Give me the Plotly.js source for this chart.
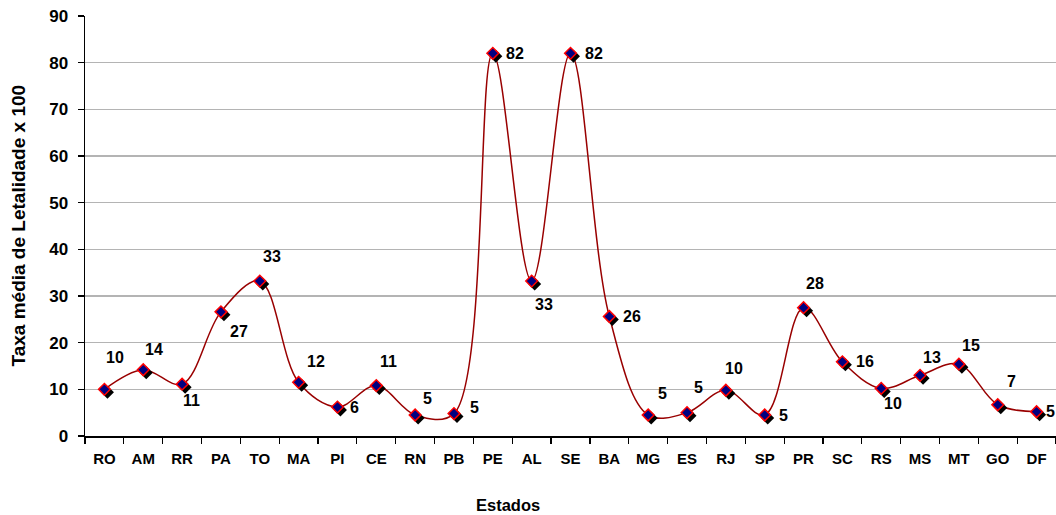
<!DOCTYPE html>
<html>
<head>
<meta charset="utf-8">
<script src="https://cdn.plot.ly/plotly-3.0.1.min.js"></script>
<style>
  html, body { margin: 0; padding: 0; background: #fff; overflow: hidden; }
  #chart { width: 1056px; height: 515px; }
</style>
</head>
<body>
<div id="chart"></div>
<script>
// Taxa média de letalidade (x 100) por estado
const estados = ['RO','AM','RR','PA','TO','MA','PI','CE','RN','PB','PE','AL','SE',
                 'BA','MG','ES','RJ','SP','PR','SC','RS','MS','MT','GO','DF'];
const taxas = [10, 14.2, 11.1, 26.6, 33.2, 11.5, 6.2, 10.8, 4.5, 4.8, 82, 33.2, 82,
               25.6, 4.5, 5, 9.8, 4.5, 27.5, 15.9, 10.2, 13, 15.4, 6.7, 5.2];

// label offsets in pixels (right, down) around each marker
const labelDx = [11, 11, 9, 18, 12, 17, 17, 12, 12, 21, 22, 12, 23, 23, 14, 11, 8, 19, 11, 23, 12, 12, 12, 14, 14];
const labelDy = [-32, -20, 16, 20, -25, -21, 0, -24, -17, -6, 0, 23, 0, 0, -22, -25, -22, 0, -24, 0, 15, -18, -19, -23, 0];

const M = { l: 85, r: 0, t: 16, b: 79 };
const W = 1056, H = 515;
const plotW = W - M.l - M.r, plotH = H - M.t - M.b;
const xRange = [-0.5, estados.length - 0.5];
const yRange = [0, 90];
const xPerPx = (xRange[1] - xRange[0]) / plotW;
const yPerPx = (yRange[1] - yRange[0]) / plotH;
const SHADOW_DX = 3, SHADOW_DY = 3;

const font = 'Liberation Sans, Arial, sans-serif';

const lineTrace = {
  x: estados, y: taxas, type: 'scatter', mode: 'lines',
  line: { shape: 'spline', smoothing: 1, color: '#990000', width: 1.5 },
  hoverinfo: 'skip', xaxis: 'x', yaxis: 'y'
};
const shadowTrace = {
  x: estados, y: taxas, type: 'scatter', mode: 'markers',
  marker: { symbol: 'diamond', size: 10, color: '#000000', line: { width: 0 } },
  hoverinfo: 'skip', xaxis: 'x2', yaxis: 'y2', cliponaxis: false
};
const markerTrace = {
  x: estados, y: taxas, type: 'scatter', mode: 'markers',
  marker: { symbol: 'diamond', size: 9, color: '#000080', line: { color: '#ff0000', width: 1.5 } },
  xaxis: 'x3', yaxis: 'y3', cliponaxis: false
};

const annotations = estados.map((e, i) => ({
  x: e, y: taxas[i], xref: 'x', yref: 'y',
  text: String(Math.round(taxas[i])),
  showarrow: false, xanchor: 'center', yanchor: 'middle',
  xshift: labelDx[i], yshift: -labelDy[i],
  font: { family: font, size: 16, color: '#000', weight: 'bold' }
}));
annotations.push({
  text: 'Taxa média de Letalidade x 100', textangle: -90,
  xref: 'paper', yref: 'paper', x: (17.5 - M.l) / plotW, y: 0.5,
  xanchor: 'center', yanchor: 'middle', showarrow: false,
  font: { family: font, size: 19, color: '#000', weight: 'bold' }
});
annotations.push({
  text: 'Estados',
  xref: 'paper', yref: 'paper', x: (507.5 - M.l) / plotW, y: (plotH + M.t - 505) / plotH,
  xanchor: 'center', yanchor: 'middle', showarrow: false,
  font: { family: font, size: 16.5, color: '#000', weight: 'bold' }
});

const layout = {
  width: W, height: H, margin: M,
  paper_bgcolor: '#fff', plot_bgcolor: '#fff',
  showlegend: false,
  xaxis: {
    type: 'category', range: xRange, tickson: 'boundaries',
    ticks: 'outside', ticklen: 6, tickwidth: 1.2, tickcolor: '#000',
    showline: true, linecolor: '#000', linewidth: 1.5,
    showgrid: false, zeroline: false, ticklabelstandoff: 8,
    tickfont: { family: font, size: 15, color: '#000', weight: 'bold' }
  },
  yaxis: {
    range: yRange, dtick: 10, tick0: 0,
    ticks: 'outside', ticklen: 6, tickwidth: 1.2, tickcolor: '#000',
    showline: true, linecolor: '#000', linewidth: 1.5,
    showgrid: true, gridcolor: '#b4b4b4', gridwidth: 1.2, zeroline: false,
    ticklabelstandoff: 6,
    tickfont: { family: font, size: 17, color: '#000', weight: 'bold' }
  },
  xaxis2: {
    type: 'category', overlaying: 'x', visible: false,
    range: [xRange[0] - SHADOW_DX * xPerPx, xRange[1] - SHADOW_DX * xPerPx]
  },
  yaxis2: {
    overlaying: 'y', visible: false,
    range: [yRange[0] + SHADOW_DY * yPerPx, yRange[1] + SHADOW_DY * yPerPx]
  },
  xaxis3: { type: 'category', overlaying: 'x', visible: false, range: xRange },
  yaxis3: { overlaying: 'y', visible: false, range: yRange },
  annotations: annotations
};

Plotly.newPlot('chart', [lineTrace, shadowTrace, markerTrace], layout,
  { displayModeBar: false, staticPlot: true });
</script>
</body>
</html>
